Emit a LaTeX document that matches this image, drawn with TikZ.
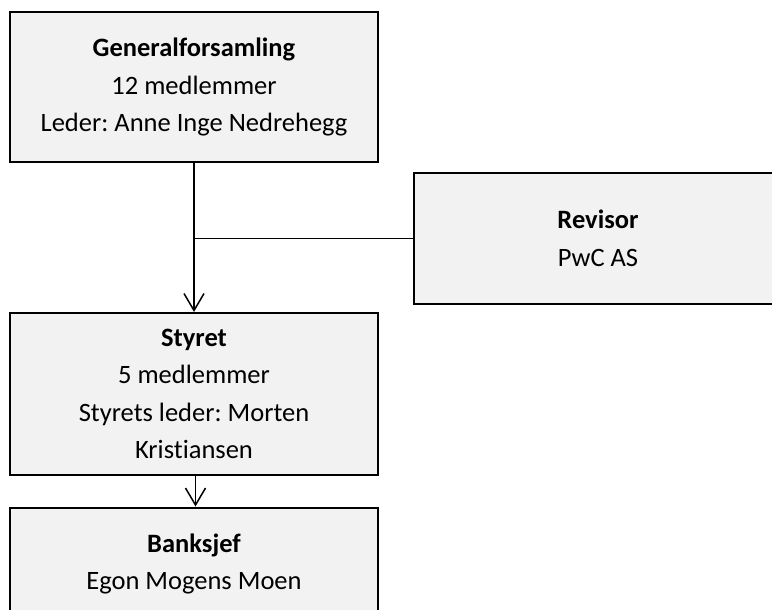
\documentclass[tikz,border=0pt]{standalone}
\usepackage{fontspec}
\setmainfont{Carlito}[Ligatures=NoCommon]
\usetikzlibrary{arrows.meta}
\definecolor{boxfill}{HTML}{F2F2F2}
\frenchspacing
\tikzset{
  orgbox/.style={draw=black, line width=2pt, fill=boxfill, rectangle,
    minimum width=368pt, align=center, inner sep=0pt,
    font=\fontsize{26.5}{37.5}\selectfont},
  link/.style={draw=black, line width=1.5pt},
  arrowlink/.style={link, -{Straight Barb[length=17pt, width=20pt, line width=1.5pt]}},
}
\begin{document}
\begin{tikzpicture}[x=1pt, y=-1pt]
\useasboundingbox (0,0) rectangle (772,610);
\clip (0,0) rectangle (772,610);

% boxes
\node[orgbox, minimum height=149pt] (gen) at (194,87)
  {\textbf{Generalforsamling}\\12 medlemmer\\Leder: Anne Inge Nedrehegg};
\node[orgbox, minimum height=131pt] (rev) at (598,238.5)
  {\textbf{Revisor}\\PwC AS};
\node[orgbox, minimum height=162pt] (sty) at (194,394)
  {\textbf{Styret}\\5 medlemmer\\Styrets leder: Morten\\Kristiansen};
\node[orgbox, minimum height=113pt] (bank) at (194,564)
  {\textbf{Banksjef}\\Egon Mogens Moen};

% connectors
\draw[arrowlink] (gen.south) -- (sty.north);
\draw[link] (rev.west) -- (rev.west -| gen.south);
\draw[arrowlink] ([xshift=1.5pt]sty.south) -- ([xshift=1.5pt]bank.north);
\end{tikzpicture}
\end{document}
